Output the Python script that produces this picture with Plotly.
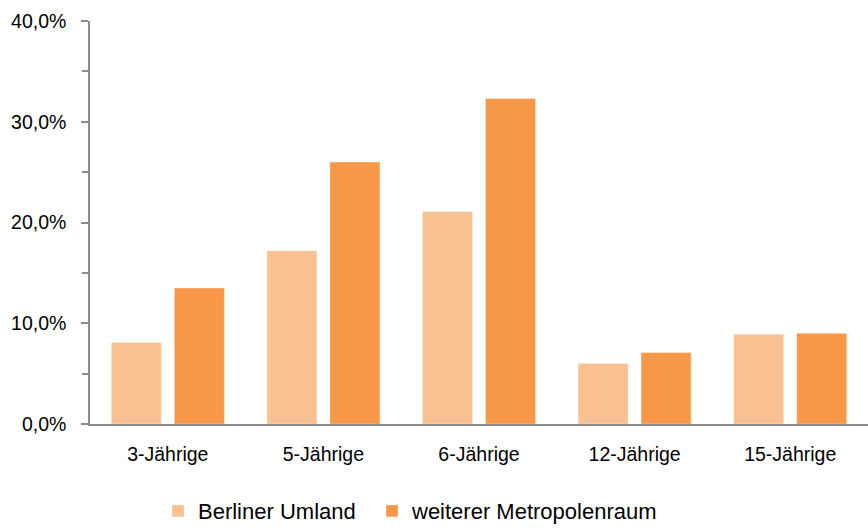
import plotly.graph_objects as go

categories = ["3-Jährige", "5-Jährige", "6-Jährige", "12-Jährige", "15-Jährige"]
berliner_umland = [8.1, 17.2, 21.1, 6.0, 8.9]
weiterer_metropolenraum = [13.5, 26.0, 32.3, 7.1, 9.0]
series_names = ["Berliner Umland", "weiterer Metropolenraum"]
y_tick_vals = [0, 10, 20, 30, 40]
y_tick_text = ["0,0%", "10,0%", "20,0%", "30,0%", "40,0%"]

FONT = "Liberation Sans, Arial, sans-serif"

fig = go.Figure()
fig.add_trace(go.Bar(
    x=categories, y=berliner_umland, name=series_names[0], legend="legend",
    marker=dict(color="#F9C191", line=dict(color="rgba(255,255,255,0.35)", width=1)),
))
fig.add_trace(go.Bar(
    x=categories, y=weiterer_metropolenraum, name=series_names[1], legend="legend2",
    marker=dict(color="#F79748", line=dict(color="rgba(255,255,255,0.35)", width=1)),
))

legend_common = dict(
    orientation="h", xref="container", yref="container",
    xanchor="left", y=0.032, yanchor="middle",
    font=dict(size=22, family=FONT, color="#000000"),
    bgcolor="rgba(0,0,0,0)", borderwidth=0,
)

fig.update_layout(
    width=868, height=528,
    margin=dict(l=90, r=0, t=21, b=104),
    paper_bgcolor="white", plot_bgcolor="white",
    barmode="group", bargap=0.19, bargroupgap=0.206,
    font=dict(family=FONT, color="#000000"),
    showlegend=True,
    legend=dict(x=158 / 868, **legend_common),
    legend2=dict(x=372 / 868, **legend_common),
)
fig.update_xaxes(
    showline=True, linecolor="#8C8C8C", linewidth=2,
    showgrid=False, ticks="", tickfont=dict(size=19.5, family=FONT, color="#000000"),
    ticklabelstandoff=12,
)
fig.update_yaxes(
    range=[0, 40], showline=True, linecolor="#8C8C8C", linewidth=1.5,
    showgrid=False, zeroline=False,
    tickmode="array", tickvals=y_tick_vals, ticktext=y_tick_text,
    ticks="outside", ticklen=7, tickwidth=1.5, tickcolor="#8C8C8C",
    minor=dict(ticks="outside", ticklen=6, tickwidth=1.5, tickcolor="#8C8C8C", dtick=5, showgrid=False),
    tickfont=dict(size=19.5, family=FONT, color="#000000"),
    ticklabelstandoff=11,
)

fig.write_html("out.html")
